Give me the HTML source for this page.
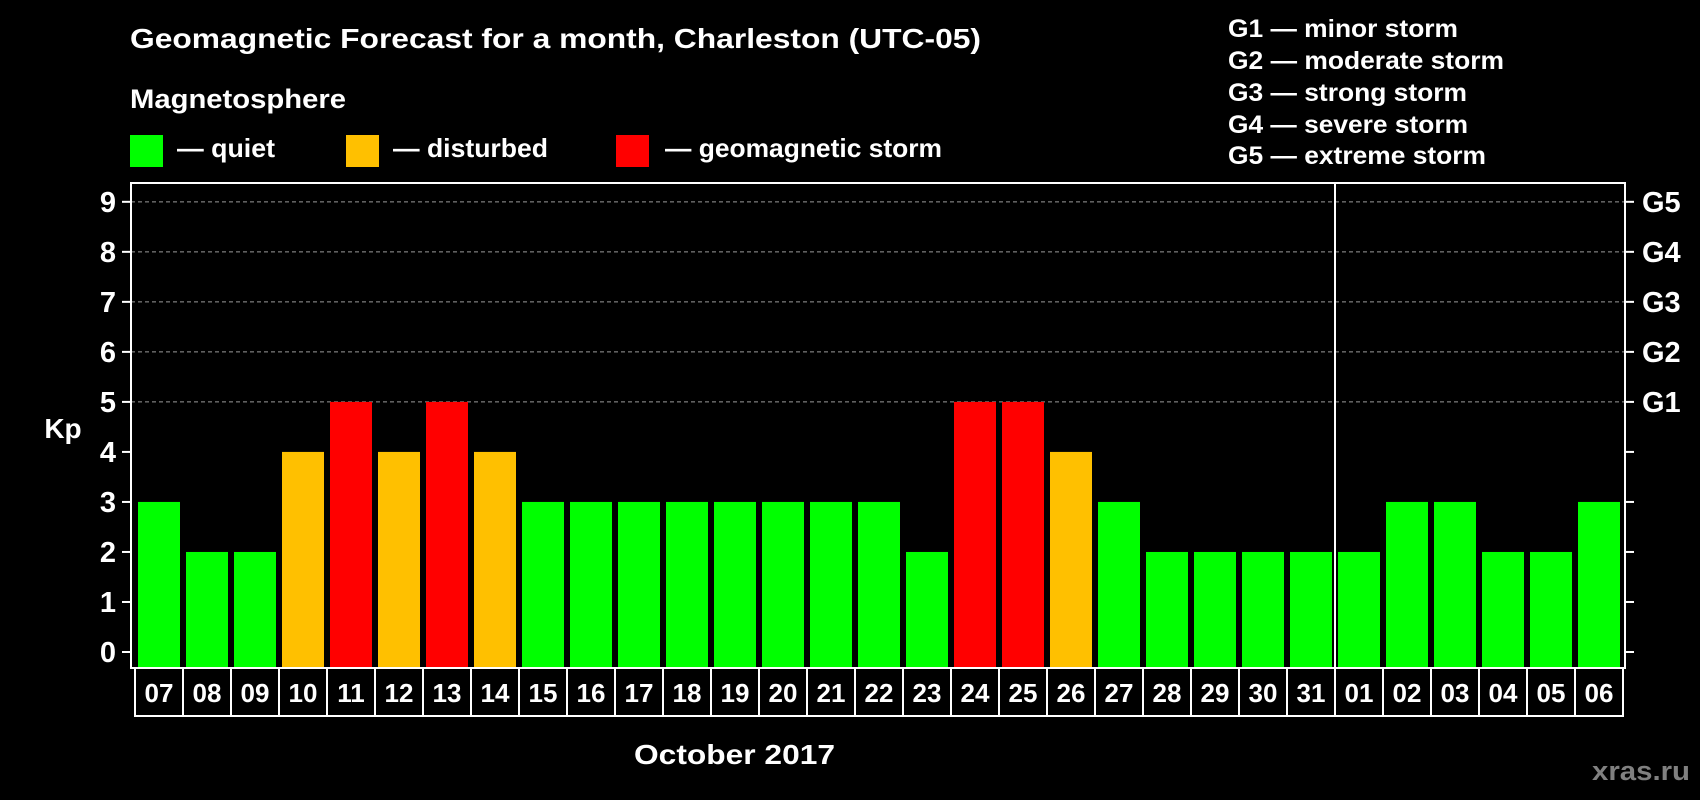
<!DOCTYPE html>
<html><head><meta charset="utf-8">
<style>
html,body{margin:0;padding:0;background:#000;}
svg{display:block;font-family:"Liberation Sans",Arial,sans-serif;font-weight:bold;}
</style></head>
<body>
<svg id="chart" width="1700" height="800" viewBox="0 0 1700 800">
  <rect x="0" y="0" width="1700" height="800" fill="#000"/>
  <text x="130" y="48" fill="#fff" font-size="28" textLength="851" lengthAdjust="spacingAndGlyphs">Geomagnetic Forecast for a month, Charleston (UTC-05)</text>
  <text x="130" y="108" fill="#fff" font-size="27" textLength="216" lengthAdjust="spacingAndGlyphs">Magnetosphere</text>
  <g>
    <rect x="130" y="135" width="33" height="32" fill="#00ff00"/>
    <text x="177" y="157" fill="#fff" font-size="26" textLength="98" lengthAdjust="spacingAndGlyphs">— quiet</text>
  </g>
  <g>
    <rect x="346" y="135" width="33" height="32" fill="#ffc000"/>
    <text x="393" y="157" fill="#fff" font-size="26" textLength="155" lengthAdjust="spacingAndGlyphs">— disturbed</text>
  </g>
  <g>
    <rect x="616" y="135" width="33" height="32" fill="#ff0000"/>
    <text x="665" y="157" fill="#fff" font-size="26" textLength="277" lengthAdjust="spacingAndGlyphs">— geomagnetic storm</text>
  </g>
  <g fill="#fff" font-size="25" lengthAdjust="spacingAndGlyphs">
    <text x="1228" y="37" textLength="230" lengthAdjust="spacingAndGlyphs">G1 — minor storm</text>
    <text x="1228" y="69" textLength="276" lengthAdjust="spacingAndGlyphs">G2 — moderate storm</text>
    <text x="1228" y="101" textLength="239" lengthAdjust="spacingAndGlyphs">G3 — strong storm</text>
    <text x="1228" y="133" textLength="240" lengthAdjust="spacingAndGlyphs">G4 — severe storm</text>
    <text x="1228" y="164" textLength="258" lengthAdjust="spacingAndGlyphs">G5 — extreme storm</text>
  </g>
  <text x="63" y="438" fill="#fff" font-size="28" text-anchor="middle">Kp</text>
  <g id="grid"></g>
  <g id="bars"></g>
  <g id="axes"></g>
  <text x="634" y="764" fill="#fff" font-size="28" textLength="201" lengthAdjust="spacingAndGlyphs">October 2017</text>
  <text x="1592" y="780" fill="#808080" font-size="27" textLength="98" lengthAdjust="spacingAndGlyphs">xras.ru</text>
</svg>
<script>
const days = ["07","08","09","10","11","12","13","14","15","16","17","18","19","20","21","22","23","24","25","26","27","28","29","30","31","01","02","03","04","05","06"];
const kpValues = [3,2,2,4,5,4,5,4,3,3,3,3,3,3,3,3,2,5,5,4,3,2,2,2,2,2,3,3,2,2,3];
const yTicks = [0,1,2,3,4,5,6,7,8,9];
const gLabels = ["","","","","","G1","G2","G3","G4","G5"];
const monthBreakIndex = 25;

const NS="http://www.w3.org/2000/svg";
const plotL=131, plotR=1625, plotT=183, plotB=668;
const y0=652, unit=50.02;
const slotX0=135, slot=48, barW=42;
function yScale(v){return y0 - v*unit;}
function xSlot(i){return slotX0 + i*slot;}
function mk(tag,attrs,parent){const e=document.createElementNS(NS,tag);for(const k in attrs)e.setAttribute(k,attrs[k]);parent.appendChild(e);return e;}
const grid=document.getElementById('grid'), bars=document.getElementById('bars'), axes=document.getElementById('axes');

yTicks.forEach((t,i)=>{
  const y=yScale(t);
  if(t>=5){
    const l=mk('line',{x1:plotL,x2:plotR,y1:y,y2:y,stroke:'#999','stroke-width':1,'stroke-dasharray':'4,3'},grid);
    
    
  }
  const tl=mk('line',{x1:plotL-9,x2:plotL,y1:y,y2:y,stroke:'#fff','stroke-width':2},axes);
  
  
  const tr=mk('line',{x1:plotR,x2:plotR+9,y1:y,y2:y,stroke:'#fff','stroke-width':2},axes);
  
  
  const lab=mk('text',{x:116,y:y+10,fill:'#fff','font-size':29,'text-anchor':'end'},axes);
  lab.textContent=String(t);
  
  
  if(gLabels[i]){
    const g=mk('text',{x:1642,y:y+10,fill:'#fff','font-size':29},axes);
    g.textContent=gLabels[i];
    
    
  }
});

kpValues.forEach((v,i)=>{
  const col = v>=5 ? '#ff0000' : (v>=4 ? '#ffc000' : '#00ff00');
  const top=yScale(v);
  const r=mk('rect',{x:xSlot(i)+3,y:top,width:barW,height:plotB-top,fill:col},bars);
  
  
  const c=mk('rect',{x:xSlot(i),y:plotB,width:slot,height:48,fill:'none',stroke:'#fff','stroke-width':2},axes);
  
  
  const t=mk('text',{x:xSlot(i)+slot/2,y:plotB+34,fill:'#fff','font-size':26,'text-anchor':'middle'},axes);
  t.textContent=days[i];
  
  
});

const frame=mk('rect',{x:plotL,y:plotT,width:plotR-plotL,height:plotB-plotT,fill:'none',stroke:'#fff','stroke-width':2},axes);


const bx=xSlot(monthBreakIndex);
const mb=mk('line',{x1:bx,x2:bx,y1:plotT,y2:plotB,stroke:'#fff','stroke-width':2},axes);


</script>
</body></html>
